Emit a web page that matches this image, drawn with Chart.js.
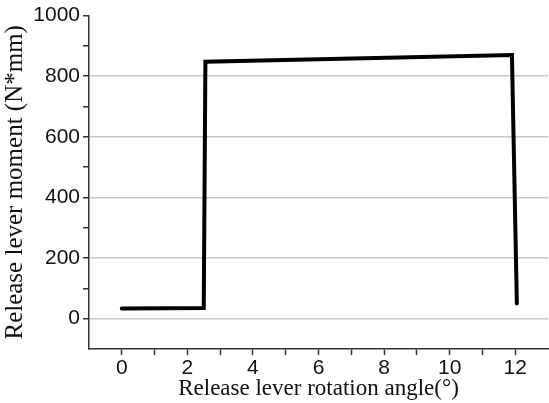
<!DOCTYPE html>
<html>
<head>
<meta charset="utf-8">
<script src="https://cdn.jsdelivr.net/npm/chart.js@4/dist/chart.umd.min.js"></script>
<style>
html,body{margin:0;padding:0;background:#fff;}
#wrap{width:549px;height:403px;}
</style>
</head>
<body>
<div id="wrap"><canvas id="c" width="549" height="403"></canvas></div>
<script>
const angles = [0, 2.5, 2.55, 11.9, 12.05];
const moments = [34, 35, 848, 870, 50];
const xTickValues = [-1,0,1,2,3,4,5,6,7,8,9,10,11,12,13];
const xTickLabels = ['', '0', '', '2', '', '4', '', '6', '', '8', '', '10', '', '12', ''];
const yTickValues = [-100,0,100,200,300,400,500,600,700,800,900,1000];
const yTickLabels = ['', '0', '', '200', '', '400', '', '600', '', '800', '', '1000'];
const xTitle = 'Release lever rotation angle(°)';
const yTitle = 'Release lever moment (N*mm)';

const points = angles.map((a, i) => ({x: a, y: moments[i]}));

new Chart(document.getElementById('c'), {
  type: 'scatter',
  data: {
    datasets: [{
      data: points,
      showLine: true,
      borderColor: '#000',
      borderWidth: 4,
      pointRadius: 0,
      tension: 0,
      borderJoinStyle: 'miter',
      borderCapStyle: 'round'
    }]
  },
  options: {
    responsive: false,
    animation: false,
    devicePixelRatio: 1,
    layout: {padding: {top: 15, right: 1, left: 0, bottom: 0}},
    plugins: {legend: {display: false}, tooltip: {enabled: false}},
    scales: {
      x: {
        type: 'linear',
        min: -1, max: 13,
        afterBuildTicks: s => { s.ticks = xTickValues.map(v => ({value: v})); },
        afterFit: s => { s.height = 54; },
        ticks: {
          autoSkip: false,
          maxRotation: 0,
          padding: 1,
          color: '#111',
          font: {family: 'Liberation Sans, Arial', size: 21},
          callback: (v, i) => xTickLabels[i]
        },
        grid: {
          display: true,
          drawOnChartArea: false,
          tickLength: 6,
          tickWidth: 1.5,
          tickColor: ctx => (ctx.tick && (ctx.tick.value === -1 || ctx.tick.value === 13)) ? 'rgba(0,0,0,0)' : '#333'
        },
        border: {display: true, color: '#333', width: 1.5},
        title: {
          display: true,
          text: xTitle,
          color: '#111',
          font: {family: 'Liberation Serif, Times New Roman', size: 23},
          padding: {top: -5, bottom: 0}
        }
      },
      y: {
        type: 'linear',
        min: -100, max: 1000,
        afterBuildTicks: s => { s.ticks = yTickValues.map(v => ({value: v})); },
        afterFit: s => { s.width = 89; },
        ticks: {
          autoSkip: false,
          padding: 3,
          color: '#111',
          font: {family: 'Liberation Sans, Arial', size: 21},
          callback: (v, i) => yTickLabels[i]
        },
        grid: {
          display: true,
          tickLength: 6,
          tickWidth: 1.5,
          color: ctx => (ctx.tick && ctx.tick.value % 200 === 0 && ctx.tick.value < 1000) ? '#c8c8c8' : 'rgba(0,0,0,0)',
          lineWidth: 1.5,
          tickColor: ctx => (ctx.tick && ctx.tick.value === -100) ? 'rgba(0,0,0,0)' : '#333'
        },
        border: {display: true, color: '#333', width: 1.5},
        title: {
          display: true,
          text: yTitle,
          color: '#111',
          font: {family: 'Liberation Serif, Times New Roman', size: 25},
          padding: {top: 0, bottom: 0}
        }
      }
    }
  }
});
</script>
</body>
</html>
